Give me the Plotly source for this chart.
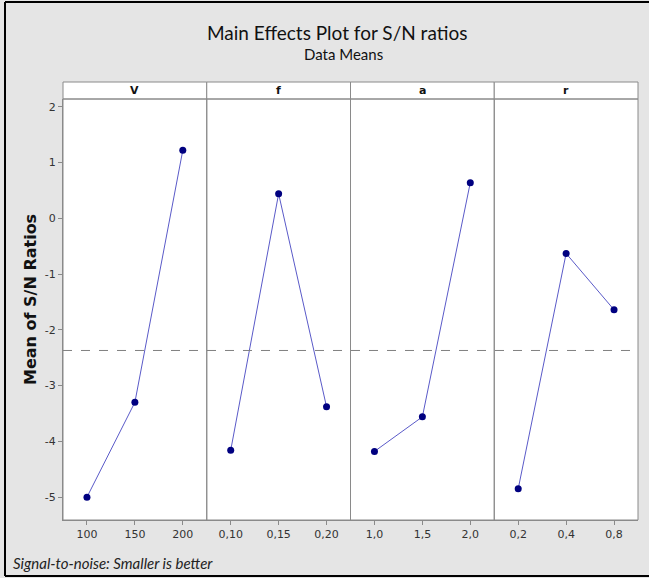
import plotly.graph_objects as go

factors = ["V", "f", "a", "r"]
levels = [["100", "150", "200"],
          ["0,10", "0,15", "0,20"],
          ["1,0", "1,5", "2,0"],
          ["0,2", "0,4", "0,8"]]
means = [[-5.00, -3.30, 1.22],
         [-4.16, 0.44, -3.38],
         [-4.18, -3.56, 0.64],
         [-4.85, -0.63, -1.64]]
grand_mean = -2.37
y_ticks = [-5, -4, -3, -2, -1, 0, 1, 2]

W, H = 649, 578
ML, MR, MT, MB = 63, 11, 99, 58
PW, PH = W - ML - MR, H - MT - MB

def px(x):
    return (x - ML) / PW

def py(y):
    return (H - MB - y) / PH

fig = go.Figure()
n = len(factors)
gray = "#8a8a8a"
for i in range(n):
    ax = "" if i == 0 else str(i + 1)
    fig.add_trace(go.Scatter(
        x=levels[i], y=means[i], mode="lines+markers",
        xaxis="x" + ax, yaxis="y",
        line=dict(color="#5a5ac8", width=1),
        marker=dict(color="#000080", size=7),
        showlegend=False, cliponaxis=False))
    d0, d1 = i / n, (i + 1) / n
    fig.layout["xaxis" + ax] = dict(
        domain=[d0, d1], type="category", range=[-0.5, 2.5],
        showline=True, linecolor=gray, linewidth=1,
        ticks="outside", ticklen=4, tickcolor=gray,
        tickfont=dict(family="DejaVu Sans", size=11, color="#333333"),
        showgrid=False, zeroline=False, anchor="y", fixedrange=True)
    fig.add_shape(type="rect", xref="paper", yref="paper",
                  x0=d0, x1=d1, y0=1, y1=py(82),
                  line=dict(color=gray, width=1), fillcolor="white", layer="below")
    fig.add_shape(type="rect", xref="paper", yref="paper",
                  x0=d0, x1=d1, y0=0, y1=1,
                  line=dict(color=gray, width=1), layer="above")
    fig.add_annotation(text="<b>" + factors[i] + "</b>", xref="paper", yref="paper",
                       x=(d0 + d1) / 2, y=py(90.5), showarrow=False,
                       xanchor="center", yanchor="middle",
                       font=dict(family="DejaVu Sans", size=11, color="#111111"))

fig.update_layout(
    width=W, height=H,
    margin=dict(l=ML, r=MR, t=MT, b=MB),
    paper_bgcolor="#e5e5e5", plot_bgcolor="white",
    yaxis=dict(range=[-5.41, 2.14], tickvals=y_ticks,
               ticktext=[str(v) for v in y_ticks],
               showline=True, linecolor=gray, ticks="outside",
               ticklen=4, tickcolor=gray,
               tickfont=dict(family="DejaVu Sans", size=11, color="#333333"),
               showgrid=False, zeroline=False, fixedrange=True),
)

fig.add_shape(type="line", xref="paper", yref="y", x0=0, x1=1,
              y0=grand_mean, y1=grand_mean,
              line=dict(color="#808080", width=1, dash="dash"))

# outer black frame
fig.add_shape(type="line", xref="paper", yref="paper",
              x0=px(5), x1=px(649), y0=py(2), y1=py(2),
              line=dict(color="black", width=2))
fig.add_shape(type="line", xref="paper", yref="paper",
              x0=px(5), x1=px(5), y0=py(2), y1=py(576),
              line=dict(color="black", width=2))
fig.add_shape(type="line", xref="paper", yref="paper",
              x0=px(5), x1=px(649), y0=py(576), y1=py(576),
              line=dict(color="black", width=2))

fig.add_annotation(text="Main Effects Plot for S/N ratios", xref="paper", yref="paper",
                   x=px(337), y=py(33), showarrow=False,
                   xanchor="center", yanchor="middle",
                   font=dict(family="Lato", size=19, color="#111111"))
fig.add_annotation(text="Data Means", xref="paper", yref="paper",
                   x=px(343), y=py(54), showarrow=False,
                   xanchor="center", yanchor="middle",
                   font=dict(family="Lato", size=15, color="#111111"))
fig.add_annotation(text="<b>Mean of S/N Ratios</b>", xref="paper", yref="paper",
                   x=px(30), y=py(300), showarrow=False, textangle=-90,
                   xanchor="center", yanchor="middle",
                   font=dict(family="DejaVu Sans", size=16, color="#111111"))
fig.add_annotation(text="<i>Signal-to-noise: Smaller is better</i>", xref="paper", yref="paper",
                   x=px(11), y=py(563), showarrow=False,
                   xanchor="left", yanchor="middle",
                   font=dict(family="Lato", size=15, color="#222222"))

fig.write_html("out.html", config={"displayModeBar": False},
               post_script="document.body.style.margin='0';document.body.style.overflow='hidden';")
